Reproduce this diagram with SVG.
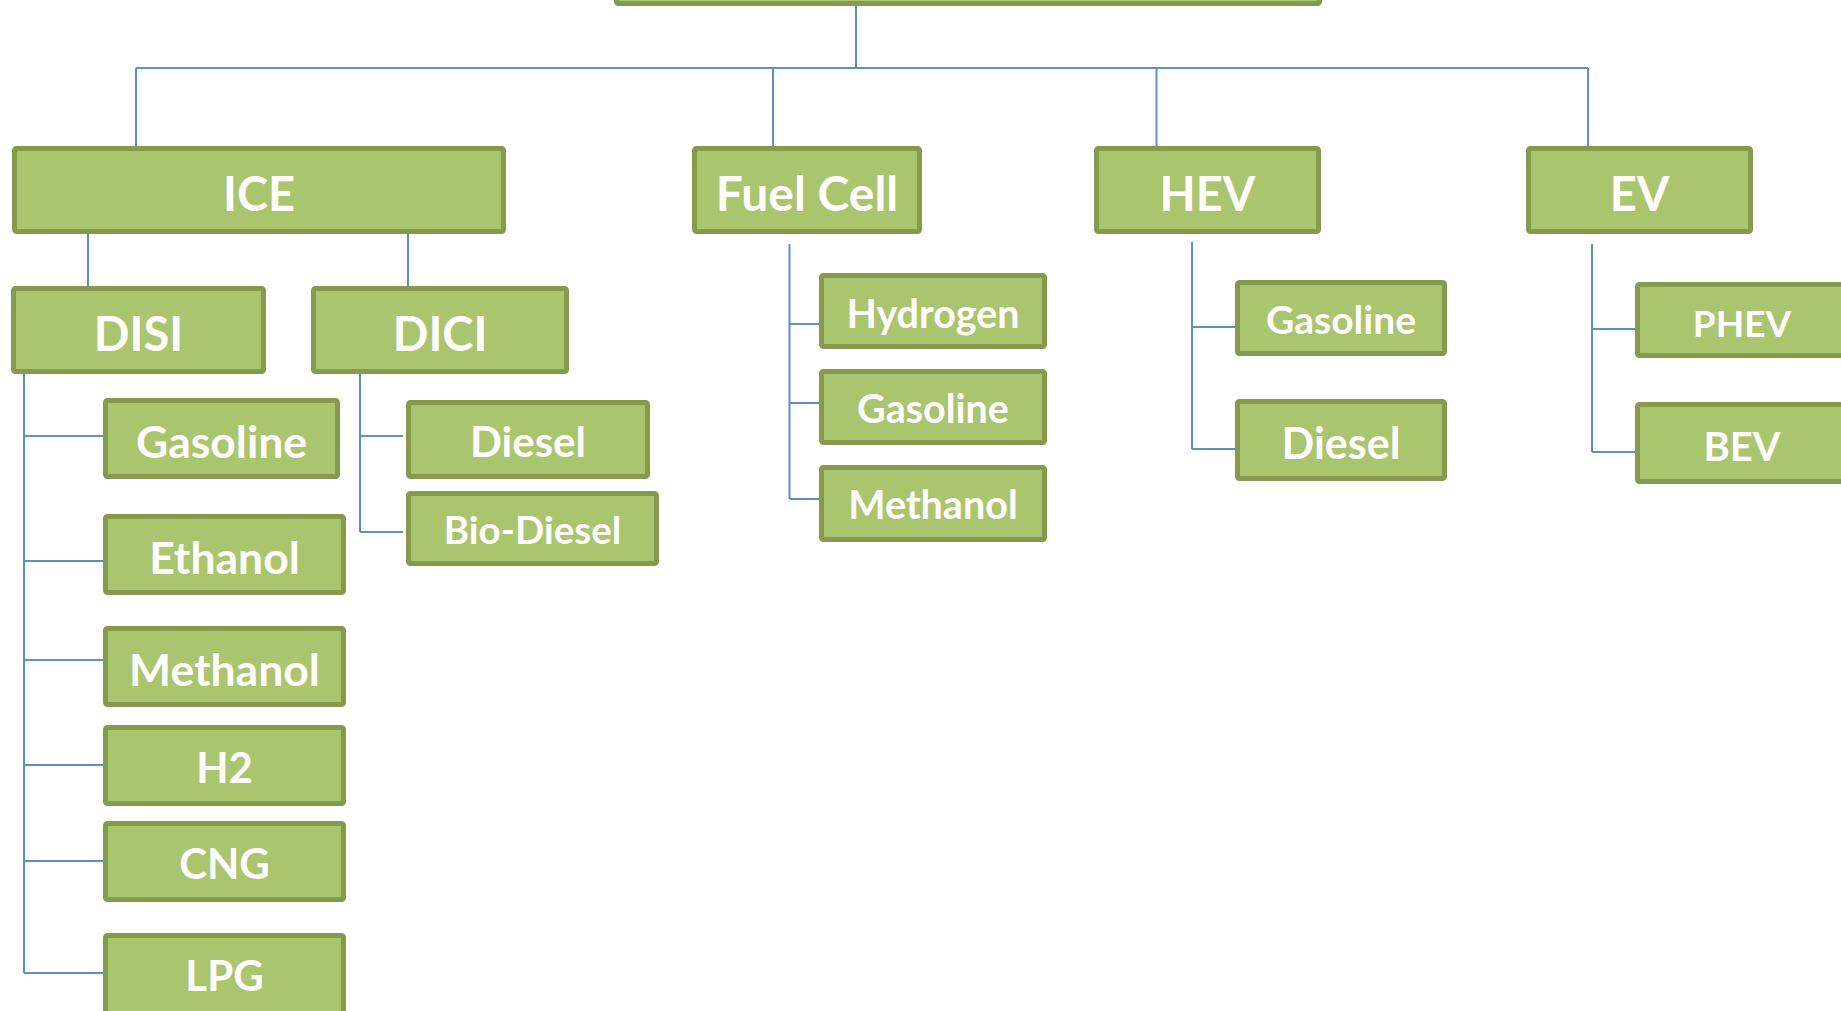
<svg xmlns="http://www.w3.org/2000/svg" width="1841" height="1011" viewBox="0 0 1841 1011">
<style>
.box{fill:#abc46e;stroke:#86994d;stroke-width:5}
.t{font-family:Lato,"Open Sans","Liberation Sans",sans-serif;font-weight:bold;fill:#ffffff;text-anchor:middle}
.c{fill:none;stroke:#5b8fcf;stroke-width:2}
</style>
<rect width="1841" height="1011" fill="#ffffff"/>
<g id="connectors" class="c">
<path d="M856,6V68M136,68H1588M136,68V146M773,68V146M1156.5,68V146M1588,68V146"/>
<path d="M88,234V286M408,234V286"/>
<path d="M24,374V973M24,436H103M24,561H103M24,660H103M24,765H103M24,861H103M24,973H103"/>
<path d="M360,372V532M360,436H403M360,532H403"/>
<path d="M789.5,244V499M789.5,324H819M789.5,403H819M789.5,499H819"/>
<path d="M1192,242V449M1192,327H1235M1192,449H1235"/>
<path d="M1592,244V452M1592,329H1635M1592,452H1635"/>
</g>
<g id="root"><rect class="box" x="616.5" y="-30" width="703" height="33.5" rx="2"/></g>
<g id="ice"><rect class="box" x="14.5" y="148.5" width="489" height="83" rx="2"/><text class="t" x="259" y="211" font-size="47">ICE</text></g>
<g id="fuelcell"><rect class="box" x="694.5" y="148.5" width="225" height="83" rx="2"/><text class="t" x="807" y="211" font-size="48">Fuel Cell</text></g>
<g id="hev"><rect class="box" x="1096.5" y="148.5" width="222" height="83" rx="2"/><text class="t" x="1207.5" y="211" font-size="47">HEV</text></g>
<g id="ev"><rect class="box" x="1528.5" y="148.5" width="222" height="83" rx="2"/><text class="t" x="1639.5" y="211" font-size="47">EV</text></g>
<g id="disi"><rect class="box" x="13.5" y="288.5" width="250" height="83" rx="2"/><text class="t" x="138.5" y="351" font-size="47">DISI</text></g>
<g id="dici"><rect class="box" x="313.5" y="288.5" width="253" height="83" rx="2"/><text class="t" x="440" y="351" font-size="47">DICI</text></g>
<g id="disi-gasoline"><rect class="box" x="105.5" y="400.5" width="232" height="76" rx="2"/><text class="t" x="221.5" y="458" font-size="44.5">Gasoline</text></g>
<g id="disi-ethanol"><rect class="box" x="105.5" y="516.5" width="238" height="76" rx="2"/><text class="t" x="224.5" y="574" font-size="44.5">Ethanol</text></g>
<g id="disi-methanol"><rect class="box" x="105.5" y="628.5" width="238" height="76" rx="2"/><text class="t" x="224.5" y="686" font-size="44.5">Methanol</text></g>
<g id="disi-h2"><rect class="box" x="105.5" y="727.5" width="238" height="76" rx="2"/><text class="t" x="224.5" y="783" font-size="42">H2</text></g>
<g id="disi-cng"><rect class="box" x="105.5" y="823.5" width="238" height="76" rx="2"/><text class="t" x="224.5" y="879" font-size="42">CNG</text></g>
<g id="disi-lpg"><rect class="box" x="105.5" y="935.5" width="238" height="90" rx="2"/><text class="t" x="224.5" y="991" font-size="42">LPG</text></g>
<g id="dici-diesel"><rect class="box" x="408.5" y="402.5" width="239" height="74" rx="2"/><text class="t" x="528" y="456.5" font-size="42">Diesel</text></g>
<g id="dici-biodiesel"><rect class="box" x="408.5" y="493.5" width="248" height="70" rx="2"/><text class="t" x="532.5" y="544" font-size="38.5">Bio-Diesel</text></g>
<g id="fc-hydrogen"><rect class="box" x="821.5" y="275.5" width="223" height="71" rx="2"/><text class="t" x="933" y="327.5" font-size="39.5">Hydrogen</text></g>
<g id="fc-gasoline"><rect class="box" x="821.5" y="371.5" width="223" height="71" rx="2"/><text class="t" x="933" y="423" font-size="39.5">Gasoline</text></g>
<g id="fc-methanol"><rect class="box" x="821.5" y="467.5" width="223" height="72" rx="2"/><text class="t" x="933" y="519" font-size="39.5">Methanol</text></g>
<g id="hev-gasoline"><rect class="box" x="1237.5" y="282.5" width="207" height="71" rx="2"/><text class="t" x="1341" y="334" font-size="39">Gasoline</text></g>
<g id="hev-diesel"><rect class="box" x="1237.5" y="401.5" width="207" height="77" rx="2"/><text class="t" x="1341" y="458.5" font-size="43">Diesel</text></g>
<g id="ev-phev"><rect class="box" x="1637.5" y="284.5" width="209" height="71" rx="2"/><text class="t" x="1742" y="336.5" font-size="37">PHEV</text></g>
<g id="ev-bev"><rect class="box" x="1637.5" y="404.5" width="209" height="77" rx="2"/><text class="t" x="1742" y="461" font-size="40">BEV</text></g>
</svg>
